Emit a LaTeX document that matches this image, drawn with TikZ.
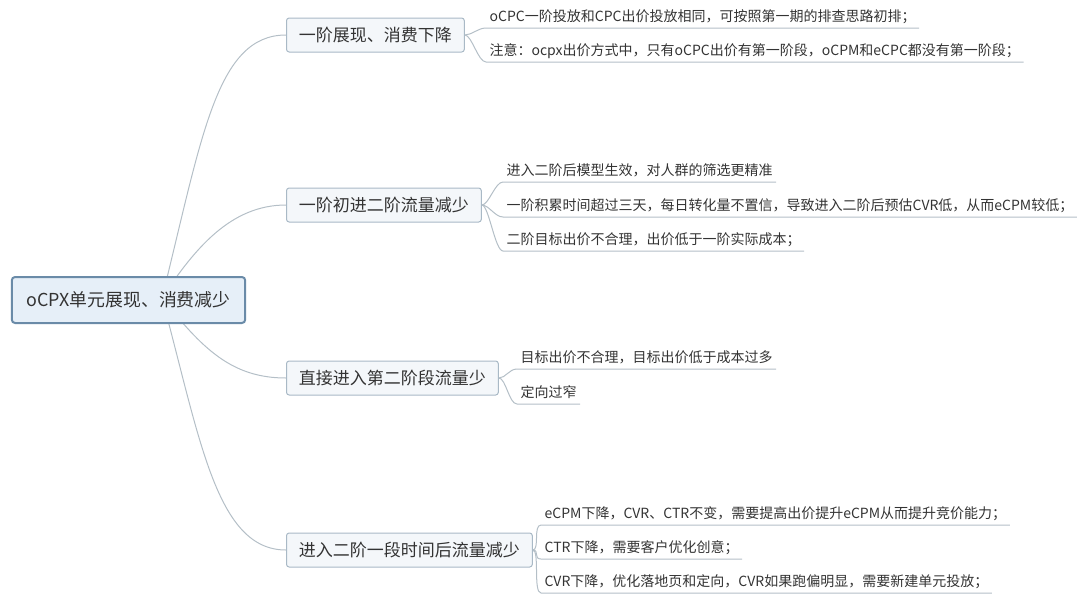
\documentclass[tikz,border=0pt]{standalone}
\usepackage{fontspec}
\setmainfont{Noto Sans CJK SC}
\usetikzlibrary{backgrounds}

\definecolor{rootfill}{HTML}{E6EFF8}
\definecolor{rootdraw}{HTML}{6A8BA8}
\definecolor{topicfill}{HTML}{F4F7FA}
\definecolor{topicdraw}{HTML}{A9B9C6}
\definecolor{branchc}{HTML}{B4BFC7}
\definecolor{txt}{HTML}{333333}

\tikzset{
  rootbox/.style={draw=rootdraw, line width=1.5pt, fill=rootfill, rounded corners=2.5pt,
    inner xsep=11pt, minimum height=34.5pt, text=txt, font=\fontsize{13.4}{16}\selectfont},
  topicbox/.style={draw=topicdraw, line width=0.75pt, fill=topicfill, rounded corners=2pt,
    inner xsep=9.3pt, minimum height=25.5pt, anchor=west, text=txt, font=\fontsize{12.75}{15}\selectfont},
  leaf/.style={anchor=south west, inner xsep=2.5pt, inner ysep=2pt, text height=8pt,
    text depth=2.5pt, text=txt, font=\fontsize{10.5}{12}\selectfont},
  branch/.style={draw=branchc, line width=0.75pt}
}

\begin{document}
\begin{tikzpicture}[x=0.75pt, y=-0.75pt]
        \useasboundingbox (0,0) rectangle (1080,600);
        % Draw root and main topics
        \node[rootbox] (root) at (128.5,300) {oCPX单元展现、消费减少};
        \coordinate (hub) at (162,298);
        \node[topicbox] (stage1) at (286,35) {一阶展现、消费下降};
        \node[topicbox] (enter2) at (286,205) {一阶初进二阶流量减少};
        \node[topicbox] (direct2) at (286,378) {直接进入第二阶段流量少};
        \node[topicbox] (later2) at (286,550) {进入二阶一段时间后流量减少};
        % Draw leaves
        \node[leaf] (stage1a) at (486,28) {oCPC一阶投放和CPC出价投放相同，可按照第一期的排查思路初排；};
        \node[leaf] (stage1b) at (486,62) {注意：ocpx出价方式中，只有oCPC出价有第一阶段，oCPM和eCPC都没有第一阶段；};
        \node[leaf] (enter2a) at (503,182) {进入二阶后模型生效，对人群的筛选更精准};
        \node[leaf] (enter2b) at (503,217) {一阶积累时间超过三天，每日转化量不置信，导致进入二阶后预估CVR低，从而eCPM较低；};
        \node[leaf] (enter2c) at (503,251) {二阶目标出价不合理，出价低于一阶实际成本；};
        \node[leaf] (direct2a) at (517,369) {目标出价不合理，目标出价低于成本过多};
        \node[leaf] (direct2b) at (517,404) {定向过窄};
        \node[leaf] (later2a) at (541,525) {eCPM下降，CVR、CTR不变，需要提高出价提升eCPM从而提升竞价能力；};
        \node[leaf] (later2b) at (541,559) {CTR下降，需要客户优化创意；};
        \node[leaf] (later2c) at (541,593) {CVR下降，优化落地页和定向，CVR如果跑偏明显，需要新建单元投放；};
        % Draw branches behind the boxes
        \begin{scope}[on background layer]
        \draw[branch] (hub) .. controls +(40,-160) and +(-70,0) .. (stage1.west);
        \draw[branch] (hub) .. controls +(33,-50) and +(-55,0) .. (enter2.west);
        \draw[branch] (hub) .. controls +(40,50) and +(-55,0) .. (direct2.west);
        \draw[branch] (hub) .. controls +(38,140) and +(-70,0) .. (later2.west);
        \foreach \t/\l in {stage1/stage1a, stage1/stage1b, enter2/enter2a, enter2/enter2b,
          enter2/enter2c, direct2/direct2a, direct2/direct2b, later2/later2a,
          later2/later2b, later2/later2c}
        \draw[branch] (\t.east) .. controls +(7,0) and +(-8,0) .. (\l.south west)
          -- (\l.south east);
        \end{scope}
    \end{tikzpicture}
\end{document}
